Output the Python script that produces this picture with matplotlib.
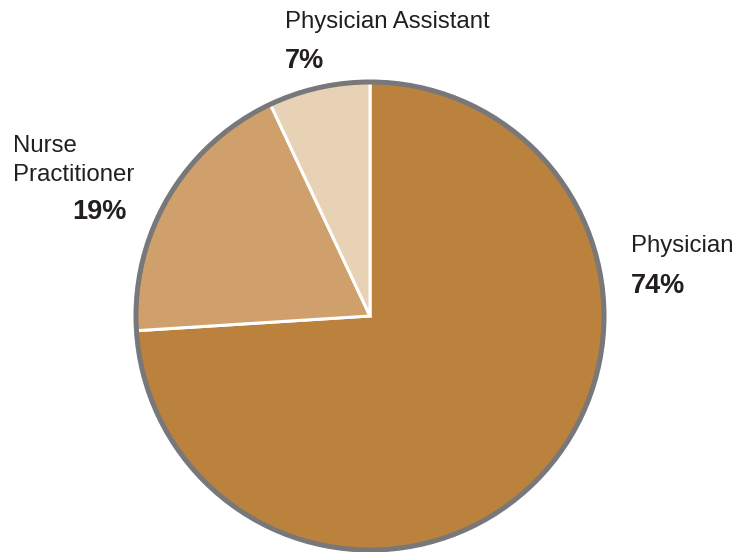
import matplotlib
matplotlib.use("Agg")
import matplotlib.pyplot as plt
from matplotlib.patches import Circle

categories = ["Physician", "Nurse\nPractitioner", "Physician Assistant"]
values = [74, 19, 7]
colors = ["#BB823D", "#CFA06B", "#E8D2B6"]

W, H = 733, 552
fig = plt.figure(figsize=(W / 100, H / 100), dpi=100)
cx, cy, r = 370, 316, 234
ax = fig.add_axes([(cx - r) / W, (H - cy - r) / H, 2 * r / W, 2 * r / H])
wedges, _ = ax.pie(values, colors=colors, startangle=90, counterclock=False,
                   radius=1, wedgeprops=dict(edgecolor="white", linewidth=2.2))
for w in wedges:
    w.set_clip_on(False)
ax.add_patch(Circle((0, 0), 1, fill=False, edgecolor="#78787B", linewidth=3.6, clip_on=False))
ax.set_xlim(-1, 1)
ax.set_ylim(-1, 1)
ax.set_aspect("equal")
ax.axis("off")

fam = ["Liberation Sans", "DejaVu Sans"]
tc = "#231F20"

def t(x, y, s, bold=False, ha="left"):
    fig.text(x / W, 1 - y / H, s, fontsize=19.5 if bold else 17.3, family=fam, color=tc,
             fontweight="bold" if bold else "normal", ha=ha, va="baseline")

# labels
t(285, 28, categories[2])
t(285, 68, f"{values[2]}%", bold=True)
t(13, 152, "Nurse")
t(13, 181, "Practitioner")
t(127, 219, f"{values[1]}%", bold=True, ha="right")
t(631, 252, categories[0])
t(631, 293, f"{values[0]}%", bold=True)

fig.savefig("out.png", dpi=100)
